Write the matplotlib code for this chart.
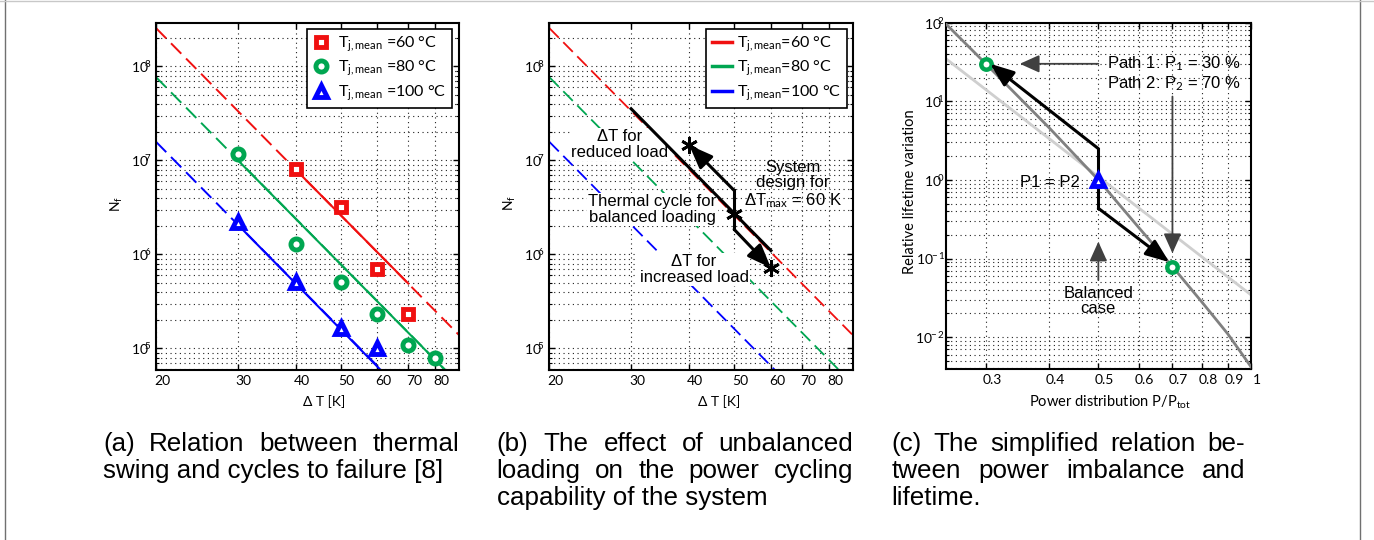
import math
import matplotlib
matplotlib.use('Agg')
import matplotlib.pyplot as plt
import matplotlib.transforms as mtransforms
from matplotlib.lines import Line2D
from matplotlib.ticker import (FixedLocator, FixedFormatter, NullLocator, LogLocator,
                               NullFormatter, FuncFormatter)

plt.rcParams['font.family'] = ['Lato', 'DejaVu Sans']
plt.rcParams['mathtext.fontset'] = 'custom'
plt.rcParams['mathtext.rm'] = 'Lato'
plt.rcParams['mathtext.it'] = 'Lato:italic'
plt.rcParams['mathtext.bf'] = 'Lato:bold'
plt.rcParams['mathtext.sf'] = 'Lato'

RED, GREEN, BLUE = '#f01010', '#00a651', '#0000ff'
DARK, LIGHT, ARROW = '#808080', '#cfcfcf', '#404040'
SANS = ['Liberation Sans', 'DejaVu Sans']

# (a) measured cycles to failure
dT_60 = [40, 50, 60, 70]
Nf_60 = [8.2e6, 3.2e6, 7.0e5, 2.3e5]
dT_80 = [30, 40, 50, 60, 70, 80]
Nf_80 = [1.17e7, 1.3e6, 5.1e5, 2.3e5, 1.1e5, 7.9e4]
dT_100 = [30, 40, 50, 60]
Nf_100 = [2.2e6, 5.1e5, 1.65e5, 1.0e5]

# fitted lines (end points)
fit_dT = [20, 90]
fit_60 = [2.56e8, 1.39e5]
fit_80 = [7.7e7, 4.2e4]
fit_100 = [1.58e7, 8.6e3]
solid_dT_60, solid_60 = [40, 70], [8.0e6, 4.9e5]
solid_dT_80, solid_80 = [30, 84], [1.01e7, 5.9e4]
solid_dT_100, solid_100 = [30, 61], [2.08e6, 5.9e4]

labels_a = ['T$_{\\mathrm{j,mean}}$ =60 °C', 'T$_{\\mathrm{j,mean}}$ =80 °C', 'T$_{\\mathrm{j,mean}}$ =100 °C']
labels_b = ['T$_{\\mathrm{j,mean}}$=60 °C', 'T$_{\\mathrm{j,mean}}$=80 °C', 'T$_{\\mathrm{j,mean}}$=100 °C']
dT_ticks = [20, 30, 40, 50, 60, 70, 80]

# (b) balanced / unbalanced thermal cycles
bal_dT, bal_N = [30, 60], [3.55e7, 1.1e6]
unbal_dT = [40, 50, 50, 60]
unbal_N = [1.46e7, 4.8e6, 1.85e6, 7.2e5]
star_dT = [40, 50, 60]
star_N = [1.46e7, 2.7e6, 7.2e5]

# (c) relative lifetime vs power distribution
P_dark = [0.25, 0.3, 0.4, 0.5, 0.6, 0.7, 0.8, 0.9, 1.0]
life_dark = [97, 30, 4.6, 1.0, 0.25, 0.079, 0.028, 0.011, 0.0042]
P_light, life_light = [0.25, 1.0], [35, 0.0345]
P_circ, life_circ = [0.3, 0.7], [30, 0.078]
P_bal, life_bal = [0.5], [1.0]
path_P = [0.306, 0.5, 0.5, 0.69]
path_life = [30, 2.5, 0.436, 0.09]
P_ticks = [0.3, 0.4, 0.5, 0.6, 0.7, 0.8, 0.9, 1.0]
P_ticklabels = ['0.3', '0.4', '0.5', '0.6', '0.7', '0.8', '0.9', '1']

W, H = 1374, 540
fig = plt.figure(figsize=(W / 100, H / 100), dpi=100)


def add_ax(l, t, r, b):
    return fig.add_axes([l / W, 1 - b / H, (r - l) / W, (b - t) / H])


# exponent partly tucked over the "0", as in the exported MATLAB figure
decade_fmt = FuncFormatter(lambda v, pos: '$10^{\\!\\!%d}$' % round(math.log10(v)))


def style(ax, xticks, xlabels, xlim, ylim, ypad=3.0):
    ax.set_xscale('log')
    ax.set_yscale('log')
    ax.set_xlim(xlim)
    ax.set_ylim(ylim)
    ax.xaxis.set_major_locator(FixedLocator(xticks))
    ax.xaxis.set_major_formatter(FixedFormatter(xlabels))
    ax.xaxis.set_minor_locator(NullLocator())
    ax.yaxis.set_major_locator(LogLocator(base=10))
    ax.yaxis.set_major_formatter(decade_fmt)
    ax.yaxis.set_minor_locator(LogLocator(base=10, subs=range(2, 10)))
    ax.yaxis.set_minor_formatter(NullFormatter())
    ax.set_axisbelow(True)
    ax.grid(True, which='both', color='#202020', linewidth=0.8, linestyle=(0, (1, 3.2)))
    ax.tick_params(which='both', direction='in', top=True, right=True, labelsize=10)
    ax.tick_params(which='major', length=4, width=1)
    ax.tick_params(which='minor', length=2, width=0.8)
    ax.tick_params(axis='y', which='major', pad=ypad)
    for s in ax.spines.values():
        s.set_linewidth(1.5)
    off = mtransforms.ScaledTranslation(0.06, 0, fig.dpi_scale_trans)
    for lab in ax.get_xticklabels():
        lab.set_transform(lab.get_transform() + off)


def labels(ax, xl, yl, xpos, ypos, fs=10):
    ax.set_xlabel(xl, fontsize=fs, va='center')
    ax.xaxis.set_label_coords(*xpos)
    ax.set_ylabel(yl, fontsize=fs, va='center')
    ax.yaxis.set_label_coords(*ypos)


def arrow(ax, start, end, color, lw, scale, hl, hw):
    ax.annotate('', xy=end, xytext=start, zorder=6,
                arrowprops=dict(arrowstyle='-|>,head_length=%g,head_width=%g' % (hl, hw),
                                color=color, lw=lw, mutation_scale=scale,
                                shrinkA=0, shrinkB=0))


dash = (7.5, 3.5)

# ---------------- (a)
ax1 = add_ax(156, 23, 459, 370)
style(ax1, dT_ticks, [str(t) for t in dT_ticks], (20, 90), (5.9e4, 2.9e8))
for fit, c in [(fit_60, RED), (fit_80, GREEN), (fit_100, BLUE)]:
    ax1.plot(fit_dT, fit, color=c, lw=1.4, dashes=dash)
ax1.plot(solid_dT_60, solid_60, color=RED, lw=1.5)
ax1.plot(solid_dT_80, solid_80, color=GREEN, lw=1.5)
ax1.plot(solid_dT_100, solid_100, color=BLUE, lw=1.5)
h1, = ax1.plot(dT_60, Nf_60, 's', ms=6.5, mfc='white', mec=RED, mew=3.5, label=labels_a[0], zorder=5)
h2, = ax1.plot(dT_80, Nf_80, 'o', ms=8, mfc='white', mec=GREEN, mew=3.5, label=labels_a[1], zorder=5)
h3, = ax1.plot(dT_100, Nf_100, '^', ms=9, mfc='white', mec=BLUE, mew=3.5, label=labels_a[2], zorder=5)
leg = ax1.legend(handles=[h1, h2, h3], loc='upper right', bbox_to_anchor=(0.977, 0.983),
                 borderaxespad=0, fontsize=11.5, fancybox=False, framealpha=1, edgecolor='k',
                 handlelength=1.0, handletextpad=0.6, labelspacing=0.32, borderpad=0.35)
leg.get_frame().set_linewidth(1.2)
labels(ax1, 'Δ T [K]', 'N$_\\mathrm{f}$', (0.554, -0.091), (-0.129, 0.478))

# ---------------- (b)
ax2 = add_ax(549.3, 23, 852.7, 370)
style(ax2, dT_ticks, [str(t) for t in dT_ticks], (20, 90), (5.9e4, 2.9e8))
for fit, c in [(fit_60, RED), (fit_80, GREEN), (fit_100, BLUE)]:
    ax2.plot(fit_dT, fit, color=c, lw=1.3, dashes=dash, zorder=2)
ax2.plot(bal_dT, bal_N, color='k', lw=2.2, zorder=5)
ax2.plot(unbal_dT[1:3], unbal_N[1:3], color='k', lw=2.2, zorder=5)
arrow(ax2, (unbal_dT[1], unbal_N[1]), (unbal_dT[0], unbal_N[0]), 'k', 2.2, 16, 0.9, 0.35)
arrow(ax2, (unbal_dT[2], unbal_N[2]), (unbal_dT[3], unbal_N[3]), 'k', 2.2, 16, 0.9, 0.35)
ax2.plot(star_dT, star_N, linestyle='none', marker=(6, 2, 0), ms=12, mew=2, color='k', zorder=7)
box = dict(facecolor='white', edgecolor='none', pad=1)
ax2.text(28.4, 1.47e7, 'ΔT for\nreduced load', family=SANS, fontsize=12, ha='center', va='center',
         linespacing=1.05, bbox=box, zorder=3)
ax2.text(33.3, 3.0e6, 'Thermal cycle for\nbalanced loading', family=SANS, fontsize=12, ha='center',
         va='center', linespacing=1.05, bbox=box, zorder=3)
ax2.text(41.0, 6.9e5, 'ΔT for\nincreased load', family=SANS, fontsize=12, ha='center', va='center',
         linespacing=1.05, bbox=box, zorder=3)
ax2.text(66.9, 5.5e6, 'System\ndesign for\nΔT$_\\mathrm{max}$ = 60 K', family=SANS, fontsize=12,
         ha='center', va='center', linespacing=1.05, zorder=3)
hb = [Line2D([], [], color=c, lw=2.5) for c in (RED, GREEN, BLUE)]
leg2 = ax2.legend(hb, labels_b, loc='upper right', bbox_to_anchor=(0.981, 0.983),
                  borderaxespad=0, fontsize=11.5, fancybox=False, framealpha=1, edgecolor='k',
                  handlelength=1.3, handletextpad=0.3, labelspacing=0.32, borderpad=0.35)
leg2.get_frame().set_linewidth(1.2)
labels(ax2, 'Δ T [K]', 'N$_\\mathrm{f}$', (0.559, -0.091), (-0.129, 0.481))

# ---------------- (c)
ax3 = add_ax(945.7, 22.7, 1251, 369.3)
style(ax3, P_ticks, P_ticklabels, (0.25, 1.0), (3.9e-3, 100), ypad=0.5)
ax3.plot(P_light, life_light, color=LIGHT, lw=2, zorder=2)
ax3.plot(P_dark, life_dark, color=DARK, lw=2, zorder=3)
ax3.plot(path_P[1:3], path_life[1:3], color='k', lw=2.2, zorder=5)
arrow(ax3, (path_P[1], path_life[1]), (path_P[0], path_life[0]), 'k', 2.2, 16, 0.9, 0.35)
arrow(ax3, (path_P[2], path_life[2]), (path_P[3], path_life[3]), 'k', 2.2, 16, 0.9, 0.35)
ax3.plot(P_circ, life_circ, 'o', ms=7.5, mfc='white', mec=GREEN, mew=3.2, zorder=4)
ax3.plot(P_bal, life_bal, '^', ms=9, mfc='white', mec=BLUE, mew=3.5, zorder=7)
arrow(ax3, (0.5, 30), (0.35, 30), ARROW, 1.3, 12, 1.0, 0.45)
arrow(ax3, (0.7, 11.5), (0.7, 0.117), ARROW, 1.3, 12, 1.0, 0.45)
arrow(ax3, (0.5, 0.0534), (0.5, 0.164), ARROW, 1.3, 12, 1.0, 0.45)
ax3.text(0.519, 30, 'Path 1: P$_1$ = 30 %', family=SANS, fontsize=12, ha='left', va='center')
ax3.text(0.519, 16.6, 'Path 2: P$_2$ = 70 %', family=SANS, fontsize=12, ha='left', va='center')
ax3.text(0.402, 0.925, 'P1 = P2', family=SANS, fontsize=12, ha='center', va='center')
ax3.text(0.5, 0.029, 'Balanced\ncase', family=SANS, fontsize=12, ha='center', va='center',
         linespacing=1.05)
labels(ax3, 'Power distribution P/P$_\\mathrm{tot}$', 'Relative lifetime variation',
       (0.538, -0.094), (-0.117, 0.511), fs=10.5)

# ---------------- captions (justified, last line left aligned)
captions = [
    (['(a) Relation between thermal', 'swing and cycles to failure [8]'], 103, 459),
    (['(b) The effect of unbalanced', 'loading on the power cycling', 'capability of the system'],
     496.7, 853.3),
    (['(c) The simplified relation be-', 'tween power imbalance and', 'lifetime.'],
     891.7, 1245),
]
renderer = fig.canvas.get_renderer()
for lines, x0, x1 in captions:
    for i, line in enumerate(lines):
        yb = 451 + 27 * i
        if i == len(lines) - 1:
            fig.text(x0 / W, 1 - yb / H, line, family=SANS, fontsize=18.7, va='baseline', ha='left')
            continue
        words = line.split(' ')
        arts = [fig.text(0, 1 - yb / H, w, family=SANS, fontsize=18.7, va='baseline', ha='left')
                for w in words]
        widths = [a.get_window_extent(renderer).width for a in arts]
        gap = ((x1 - x0) - sum(widths)) / max(len(words) - 1, 1)
        x = x0
        for a, wd in zip(arts, widths):
            a.set_x(x / W)
            x += wd + gap

# page frame
fig.add_artist(Line2D([4.5 / W, 4.5 / W], [0, 1], color='#707070', lw=1))
fig.add_artist(Line2D([1359.5 / W, 1359.5 / W], [0, 1], color='#707070', lw=1))
fig.add_artist(Line2D([0, 1], [1 - 1 / H, 1 - 1 / H], color='#c8c8c8', lw=1))

fig.savefig('out.png', dpi=100)
